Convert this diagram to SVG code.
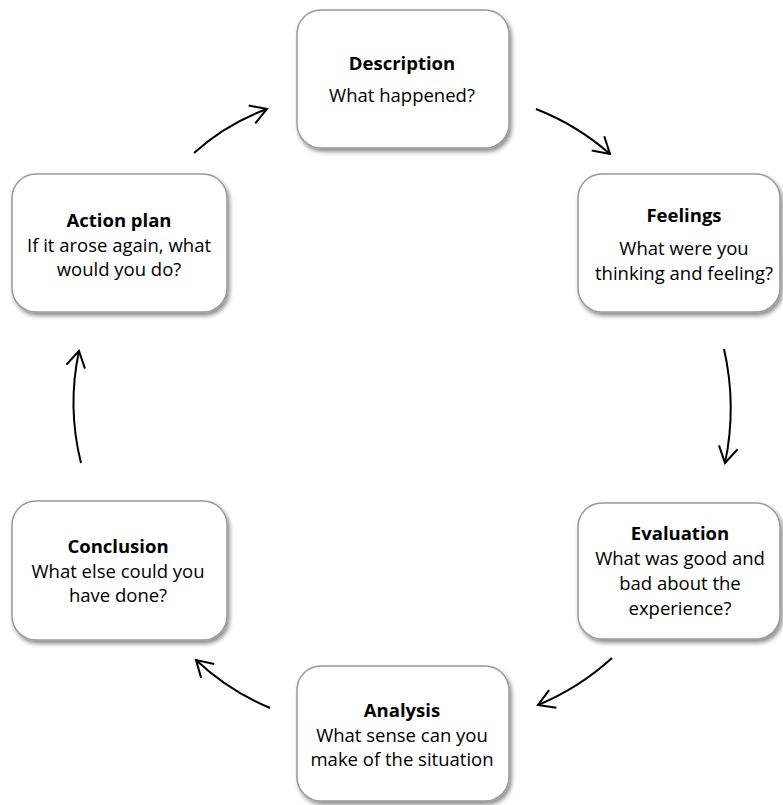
<svg xmlns="http://www.w3.org/2000/svg" width="783" height="805" viewBox="0 0 783 805">
<defs>
<filter id="sh" x="-10%" y="-10%" width="125%" height="130%">
<feDropShadow dx="2" dy="3" stdDeviation="2" flood-color="#000" flood-opacity="0.45"/>
</filter>
<marker id="ah" markerUnits="userSpaceOnUse" markerWidth="40" markerHeight="40" refX="0" refY="0" viewBox="-20 -20 40 40" orient="auto" overflow="visible">
<path d="M -16 -9.5 L 0 0 L -16 9.5" fill="none" stroke="#000" stroke-width="2"/>
</marker>
</defs>
<style>
.box{fill:#fff;stroke:#999;stroke-width:1.5;filter:url(#sh)}
text{font-family:"Open Sans","Liberation Sans",sans-serif;font-size:18.5px;fill:#000;text-anchor:middle}
.t{font-weight:bold}
.c{fill:none;stroke:#000;stroke-width:2;marker-end:url(#ah)}
</style>
<rect width="783" height="805" fill="#fff"/>
<g id="description">
<rect class="box" x="297" y="10" width="212" height="138" rx="24"/>
<text class="t" x="402" y="70">Description</text>
<text x="402" y="102">What happened?</text>
</g>
<g id="feelings">
<rect class="box" x="578" y="174" width="202" height="138" rx="24"/>
<text class="t" x="684" y="222">Feelings</text>
<text x="684" y="255">What were you</text>
<text x="684" y="280">thinking and feeling?</text>
</g>
<g id="evaluation">
<rect class="box" x="578" y="503" width="202" height="136" rx="24"/>
<text class="t" x="680" y="540">Evaluation</text>
<text x="680" y="565">What was good and</text>
<text x="680" y="590">bad about the</text>
<text x="680" y="615">experience?</text>
</g>
<g id="analysis">
<rect class="box" x="297" y="666" width="212" height="135" rx="24"/>
<text class="t" x="402" y="717">Analysis</text>
<text x="402" y="742">What sense can you</text>
<text x="402" y="766">make of the situation</text>
</g>
<g id="conclusion">
<rect class="box" x="12" y="501" width="215" height="139" rx="24"/>
<text class="t" x="118" y="553">Conclusion</text>
<text x="118" y="578">What else could you</text>
<text x="118" y="602">have done?</text>
</g>
<g id="action-plan">
<rect class="box" x="12" y="174" width="215" height="138" rx="24"/>
<text class="t" x="119" y="227">Action plan</text>
<text x="119" y="252">If it arose again, what</text>
<text x="119" y="276">would you do?</text>
</g>
<g id="connectors">
<path class="c" d="M194 153 Q226 124 267 109"/>
<path class="c" d="M536 109 Q577 125 610 154"/>
<path class="c" d="M724 349 Q737 406 725 463"/>
<path class="c" d="M612 658 Q579 688 538 705"/>
<path class="c" d="M270 708 Q229 691 196 660"/>
<path class="c" d="M81 463 Q67 407 79 351"/>
</g>
</svg>
